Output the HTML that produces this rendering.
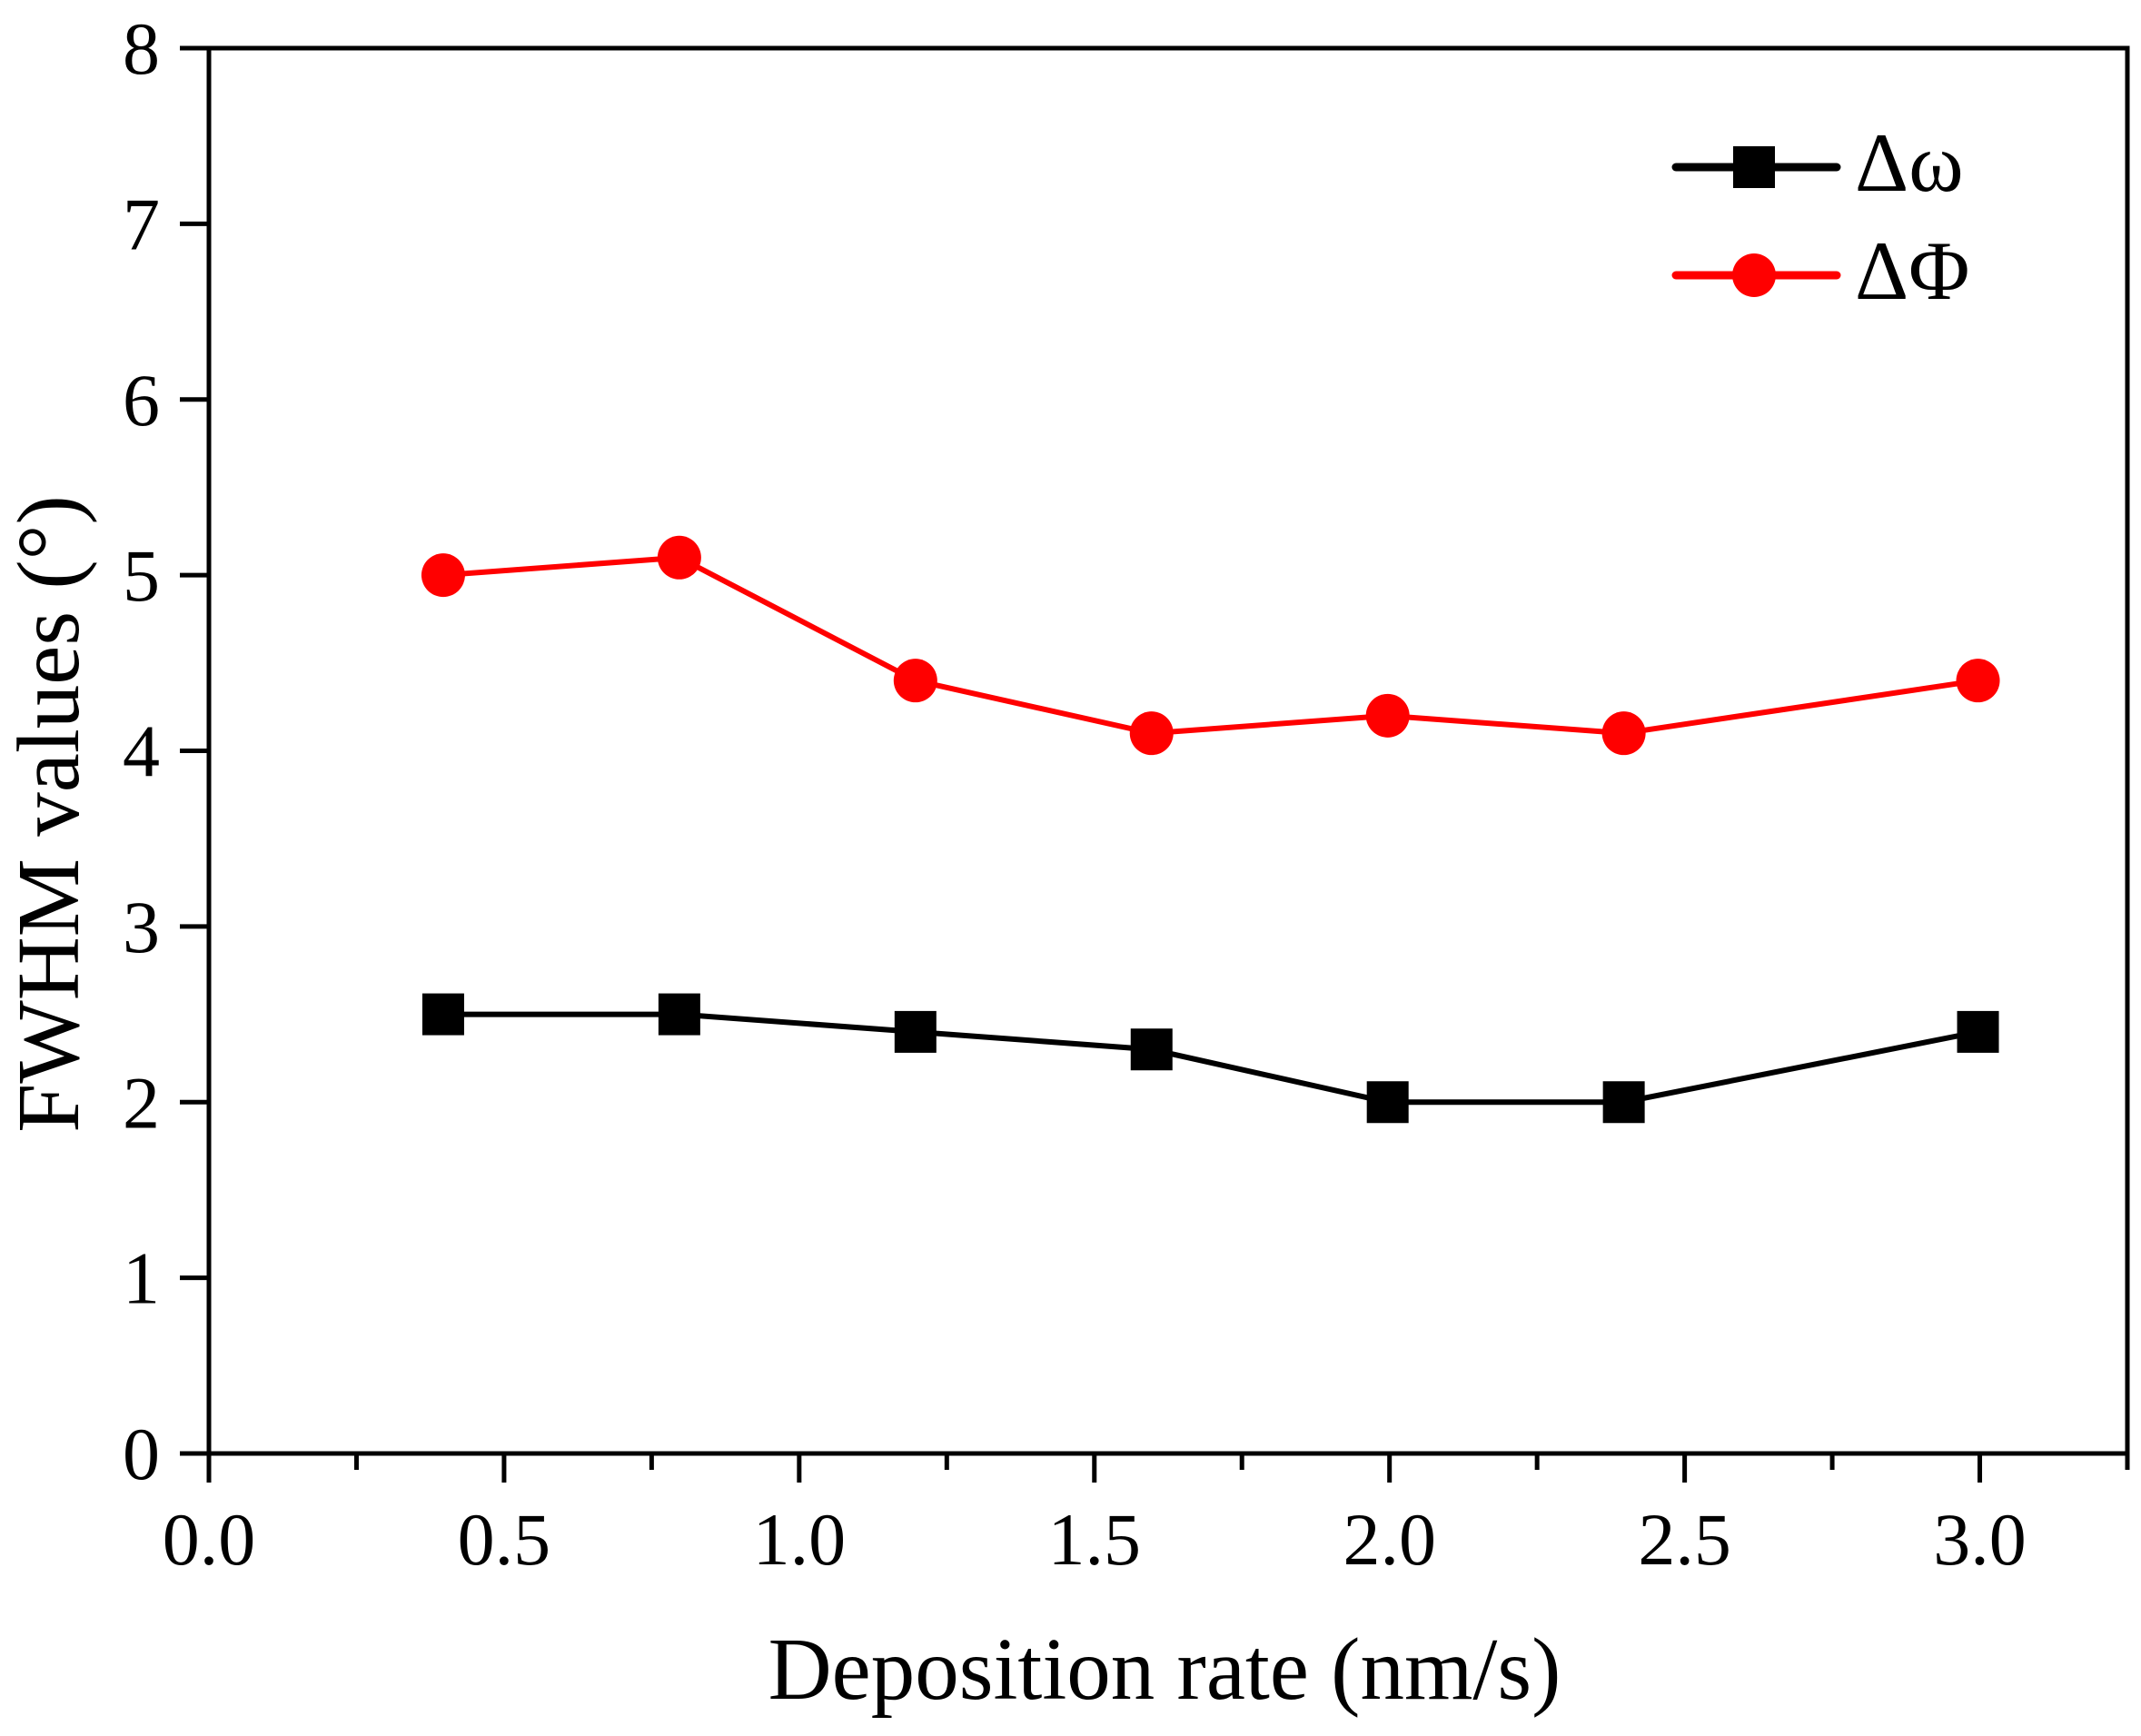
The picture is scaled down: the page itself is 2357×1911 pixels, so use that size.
<!DOCTYPE html>
<html><head><meta charset="utf-8"><style>
html,body{margin:0;padding:0;background:#fff;}
svg{display:block;font-family:"Liberation Serif",serif;}
</style></head><body>
<svg id="chart" width="2357" height="1911" viewBox="0 0 2357 1911">
<g id="axes"></g>
<g id="series"></g>
<g id="legend">
  <line x1="1845" y1="184" x2="2022" y2="184" stroke="#000" stroke-width="9" stroke-linecap="round"/>
  <rect x="1908" y="161" width="46" height="46" fill="#000"/>
  <text x="2042" y="210" font-size="92">Δω</text>
  <line x1="1845" y1="303" x2="2022" y2="303" stroke="#f00" stroke-width="9" stroke-linecap="round"/>
  <circle cx="1931" cy="303" r="24" fill="#f00"/>
  <text x="2042" y="329" font-size="92">ΔΦ</text>
</g>
<text x="1282" y="1870" font-size="97" text-anchor="middle">Deposition rate (nm/s)</text>
<text x="0" y="0" font-size="97" text-anchor="middle" transform="translate(86,896) rotate(-90)">FWHM values (°)</text>
</svg>
<script>
const xValues=[0.4,0.8,1.2,1.6,2.0,2.4,3.0];
const omegaValues=[2.5,2.5,2.4,2.3,2.0,2.0,2.4];
const phiValues=[5.0,5.1,4.4,4.1,4.2,4.1,4.4];
const xTickLabels=["0.0","0.5","1.0","1.5","2.0","2.5","3.0"];
const yTickLabels=["0","1","2","3","4","5","6","7","8"];

const X0=230,X1=2342,XMAX=3.25,Y0=1600,Y1=53,YMAX=8;
const sx=v=>X0+(v/XMAX)*(X1-X0)-2;
const sy=v=>Y0-(v/YMAX)*(Y0-Y1);
const NS="http://www.w3.org/2000/svg";
function mk(tag,attrs,parent){const e=document.createElementNS(NS,tag);for(const k in attrs)e.setAttribute(k,attrs[k]);parent.appendChild(e);return e;}
const axes=document.getElementById('axes');
const series=document.getElementById('series');

let frame=mk('path',{d:`M${X0},${Y1} H${X1} V${Y0} H${X0} Z`,fill:'none',stroke:'#000','stroke-width':5},axes);



xTickLabels.forEach((lab,i)=>{
  const v=parseFloat(lab);const x=sx(v)+2;
  const t=mk('line',{x1:x,y1:Y0,x2:x,y2:Y0+32,stroke:'#000','stroke-width':5},axes);
  
  
  const tx=mk('text',{x:x,y:1722,'font-size':82,'text-anchor':'middle'},axes);
  tx.textContent=lab;
  
  
});
for(let v=0.25;v<=XMAX+0.001;v+=0.5){
  const x=sx(v)+2;
  const t=mk('line',{x1:x,y1:Y0,x2:x,y2:Y0+18,stroke:'#000','stroke-width':5},axes);
  
  
}
yTickLabels.forEach(lab=>{
  const v=parseFloat(lab);const y=sy(v);
  const t=mk('line',{x1:X0-32,y1:y,x2:X0,y2:y,stroke:'#000','stroke-width':5},axes);
  
  
  const tx=mk('text',{x:176,y:y+28,'font-size':82,'text-anchor':'end'},axes);
  tx.textContent=lab;
  
  
});

function drawSeries(vals,color,kind,name){
  const pts=xValues.map((x,i)=>sx(x)+','+sy(vals[i])).join(' ');
  const pl=mk('polyline',{points:pts,fill:'none',stroke:color,'stroke-width':6},series);
  
  
  xValues.forEach((x,i)=>{
    let m;
    if(kind==='square') m=mk('rect',{x:sx(x)-23,y:sy(vals[i])-23,width:46,height:46,fill:color},series);
    else m=mk('circle',{cx:sx(x),cy:sy(vals[i]),r:24,fill:color},series);
    
    
  });
}
drawSeries(omegaValues,'#000','square','omega');
drawSeries(phiValues,'#f00','circle','phi');
</script>
</body></html>
